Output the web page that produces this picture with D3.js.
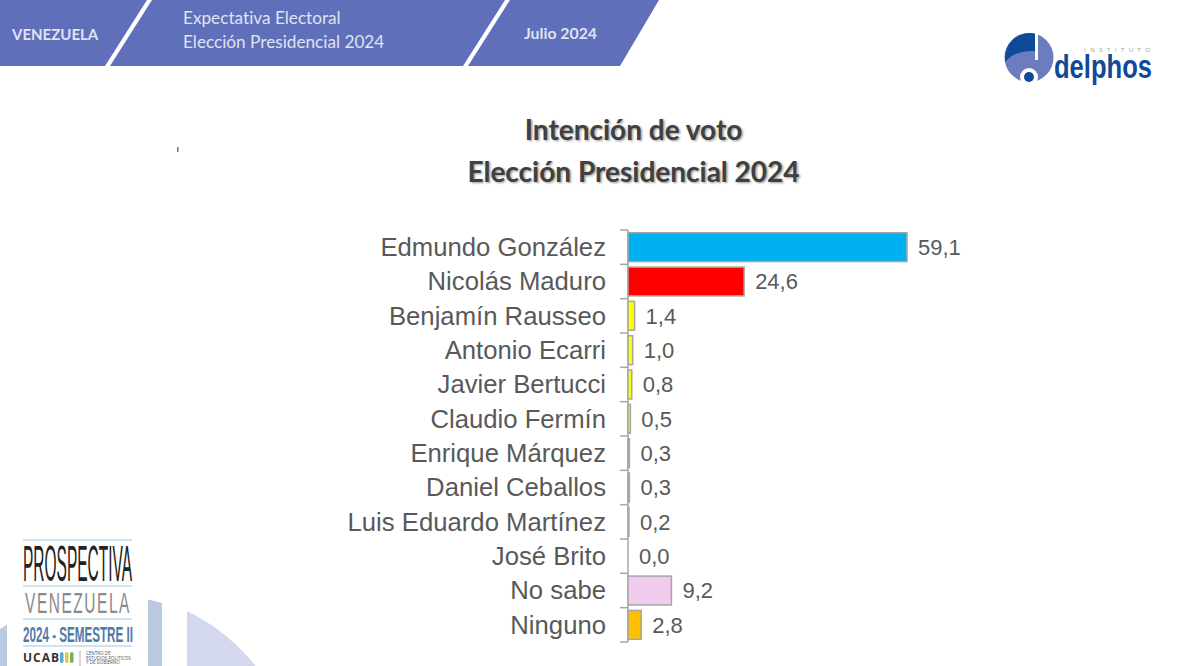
<!DOCTYPE html>
<html>
<head>
<meta charset="utf-8">
<script src="https://cdn.jsdelivr.net/npm/d3@7"></script>
<style>
html, body { margin: 0; padding: 0; background: #fff; overflow: hidden; }
svg { display: block; }
text { font-variant-ligatures: none; }
</style>
</head>
<body>
<div id="chart"></div>
<script>
var w = 1200;
var h = 666;

var candidates = ["Edmundo González", "Nicolás Maduro", "Benjamín Rausseo", "Antonio Ecarri",
   "Javier Bertucci", "Claudio Fermín", "Enrique Márquez", "Daniel Ceballos",
   "Luis Eduardo Martínez", "José Brito", "No sabe", "Ninguno"];
var votes = [59.1, 24.6, 1.4, 1.0, 0.8, 0.5, 0.3, 0.3, 0.2, 0.0, 9.2, 2.8];
var barColors = ["#00b0f0", "#ff0000", "#ffff00", "#ffff00", "#ffff00", "#ffff00",
   "#d9d9d9", "#d9d9d9", "#d9d9d9", "#d9d9d9", "#f0cbee", "#ffc000"];
var titleLines = ["Intención de voto", "Elección Presidencial 2024"];
var headerLines = ["Expectativa Electoral", "Elección Presidencial 2024"];
var centroLines = ["CENTRO DE", "ESTUDIOS POLÍTICOS", "Y DE GOBIERNO"];

var svg = d3.select("#chart").append("svg")
   .attr("width", w)
   .attr("height", h);

var defs = svg.append("defs");
defs.append("filter").attr("id", "soft")
   .append("feGaussianBlur").attr("stdDeviation", 1.2);
defs.append("clipPath").attr("id", "leftPart")
   .append("rect").attr("x", 0).attr("y", 500).attr("width", 162).attr("height", 166);
defs.append("clipPath").attr("id", "rightPart")
   .append("rect").attr("x", 187).attr("y", 500).attr("width", 200).attr("height", 166);

// backdrop circles, bottom left
svg.append("circle").attr("cx", 110).attr("cy", 796).attr("r", 200)
   .attr("fill", "#b9cbe0").attr("clip-path", "url(#leftPart)");
svg.append("circle").attr("cx", 100).attr("cy", 790).attr("r", 199)
   .attr("fill", "#d3d8ee").attr("clip-path", "url(#rightPart)");

// header band
var band = svg.append("g").attr("fill", "#5f6fba");
band.append("polygon").attr("points", "0,0 147,0 105,66 0,66");
band.append("polygon").attr("points", "152,0 505,0 463,66 110,66");
band.append("polygon").attr("points", "510,0 659,0 620,66 468,66");

var head = svg.append("g").attr("fill", "#dfe3f2").attr("font-family", "Lato");
head.append("text").attr("x", 12).attr("y", 40)
   .attr("font-size", 15).attr("font-weight", 700).text("VENEZUELA");
head.selectAll("text.sub").data(headerLines).enter().append("text")
   .attr("class", "sub")
   .attr("x", 183)
   .attr("y", function(d, i) { return 24 + i * 24; })
   .attr("font-size", 17.2)
   .text(function(d) { return d; });
head.append("text").attr("x", 524).attr("y", 39)
   .attr("font-size", 15.8).attr("font-weight", 700).text("Julio 2024");

// logo
var logo = svg.append("g");
logo.append("circle").attr("cx", 1029).attr("cy", 57.5).attr("r", 24.5).attr("fill", "#6c7cc0");
logo.append("path").attr("d", "M1005.5,62 A24.5,24.5 0 0 1 1035,33.7 L1035,51 Q1015,50 1005.5,62 Z").attr("fill", "#0f4a99");
logo.append("rect").attr("x", 1035).attr("y", 32).attr("width", 3).attr("height", 28).attr("fill", "#fff");
logo.append("circle").attr("cx", 1029).attr("cy", 77).attr("r", 9).attr("fill", "#fff");
logo.append("circle").attr("cx", 1029).attr("cy", 77).attr("r", 5).attr("fill", "#0f4a99");
logo.append("text").attr("x", 1054).attr("y", 78)
   .attr("font-family", "Liberation Sans").attr("font-weight", 700).attr("font-size", 33)
   .attr("textLength", 98).attr("lengthAdjust", "spacingAndGlyphs")
   .attr("fill", "#0f4a99").text("delphos");
logo.append("text").attr("x", 1084).attr("y", 52)
   .attr("font-family", "Open Sans").attr("font-size", 6)
   .attr("textLength", 66).attr("fill", "#999").text("INSTITUTO");

// title
svg.append("rect").attr("x", 177).attr("y", 147).attr("width", 1.5).attr("height", 5).attr("fill", "#777");
var title = svg.append("g").attr("font-family", "Lato").attr("font-weight", 700)
   .attr("font-size", 28).attr("text-anchor", "middle");
title.selectAll("text.shade").data(titleLines).enter().append("text")
   .attr("class", "shade")
   .attr("x", 635)
   .attr("y", function(d, i) { return 141 + i * 42; })
   .attr("fill", "#9a9a9a")
   .attr("filter", "url(#soft)")
   .text(function(d) { return d; });
title.selectAll("text.main").data(titleLines).enter().append("text")
   .attr("class", "main")
   .attr("x", 633.5)
   .attr("y", function(d, i) { return 139.5 + i * 42; })
   .attr("fill", "#404040")
   .text(function(d) { return d; });

// chart
var x = d3.scaleLinear().domain([0, 59.1]).range([628, 907]);
var y = d3.scaleBand().domain(candidates).range([230, 642]).paddingInner(0.16).paddingOuter(0.08);

var axis = svg.append("g")
   .attr("transform", "translate(628,0.5)")
   .call(d3.axisLeft(y).tickSize(0).tickPadding(22));
axis.select(".domain").remove();
axis.selectAll("text")
   .attr("font-family", "Liberation Sans")
   .attr("font-size", 25.7)
   .attr("fill", "#595959");

// axis line with ticks on the band edges
var step = y.step();
var edges = d3.range(candidates.length + 1);
var rule = svg.append("g").attr("stroke", "#a6a6a6").attr("stroke-width", 1.5);
rule.append("line").attr("x1", 628).attr("x2", 628)
   .attr("y1", y(candidates[0]) - y.paddingOuter() * step)
   .attr("y2", y(candidates[0]) - y.paddingOuter() * step + step * candidates.length);
rule.selectAll("line.tick").data(edges).enter().append("line")
   .attr("class", "tick")
   .attr("x1", 620).attr("x2", 628)
   .attr("y1", function(d) { return y(candidates[0]) - y.paddingOuter() * step + d * step; })
   .attr("y2", function(d) { return y(candidates[0]) - y.paddingOuter() * step + d * step; });

svg.selectAll("rect.bar").data(votes).enter().append("rect")
   .attr("class", "bar")
   .attr("x", x(0))
   .attr("y", function(d, i) { return y(candidates[i]); })
   .attr("width", function(d) { return x(d) - x(0); })
   .attr("height", y.bandwidth())
   .attr("fill", function(d, i) { return barColors[i]; })
   .attr("stroke", "#a6a6a6")
   .attr("stroke-width", function(d) { return d > 0 ? 1.5 : 0; });

svg.selectAll("text.val").data(votes).enter().append("text")
   .attr("class", "val")
   .attr("x", function(d) { return x(d) + 11; })
   .attr("y", function(d, i) { return y(candidates[i]) + y.bandwidth() / 2; })
   .attr("dy", "0.36em")
   .attr("font-family", "Liberation Sans")
   .attr("font-size", 22)
   .attr("fill", "#595959")
   .text(function(d) { return d3.format(".1f")(d).replace(".", ","); });

// prospectiva badge
var badge = svg.append("g");
badge.append("rect").attr("x", 7).attr("y", 530).attr("width", 141).attr("height", 136).attr("fill", "#fff");
var rules = [540, 586, 619, 646];
badge.selectAll("line").data(rules).enter().append("line")
   .attr("x1", 23).attr("x2", 132)
   .attr("y1", function(d) { return d; }).attr("y2", function(d) { return d; })
   .attr("stroke", "#9cc8dc").attr("stroke-width", 1.2);
badge.append("text").attr("x", 23).attr("y", 581)
   .attr("font-family", "Liberation Sans Narrow, Liberation Sans").attr("font-size", 50)
   .attr("textLength", 109).attr("lengthAdjust", "spacingAndGlyphs")
   .attr("fill", "#222").text("PROSPECTIVA");
badge.append("text").attr("x", 25).attr("y", 613)
   .attr("font-family", "Liberation Sans Narrow, Liberation Sans").attr("font-size", 30)
   .attr("letter-spacing", 3)
   .attr("textLength", 106).attr("lengthAdjust", "spacingAndGlyphs")
   .attr("fill", "#8a8a8a").text("VENEZUELA");
badge.append("text").attr("x", 23).attr("y", 642)
   .attr("font-family", "Liberation Sans Narrow, Liberation Sans").attr("font-weight", 700).attr("font-size", 22)
   .attr("textLength", 110).attr("lengthAdjust", "spacingAndGlyphs")
   .attr("fill", "#4f7aa8").text("2024 - SEMESTRE II");
badge.append("text").attr("x", 23).attr("y", 662)
   .attr("font-family", "Open Sans").attr("font-weight", 700).attr("font-size", 12)
   .attr("textLength", 36).attr("fill", "#333").text("UCAB");
badge.selectAll("rect.leaf").data(["#5aa7d6", "#e2c93c", "#6db36d"]).enter().append("rect")
   .attr("class", "leaf")
   .attr("x", function(d, i) { return 60 + i * 5; })
   .attr("y", 652).attr("width", 3.5).attr("height", 11).attr("rx", 1.7)
   .attr("fill", function(d) { return d; });
badge.append("line").attr("x1", 80).attr("x2", 80).attr("y1", 651).attr("y2", 666)
   .attr("stroke", "#999").attr("stroke-width", 0.8);
badge.selectAll("text.centro").data(centroLines).enter().append("text")
   .attr("class", "centro")
   .attr("x", 86)
   .attr("y", function(d, i) { return 655 + i * 4.5; })
   .attr("font-family", "Open Sans").attr("font-size", 4.5)
   .attr("fill", "#555")
   .text(function(d) { return d; });
</script>
</body>
</html>
